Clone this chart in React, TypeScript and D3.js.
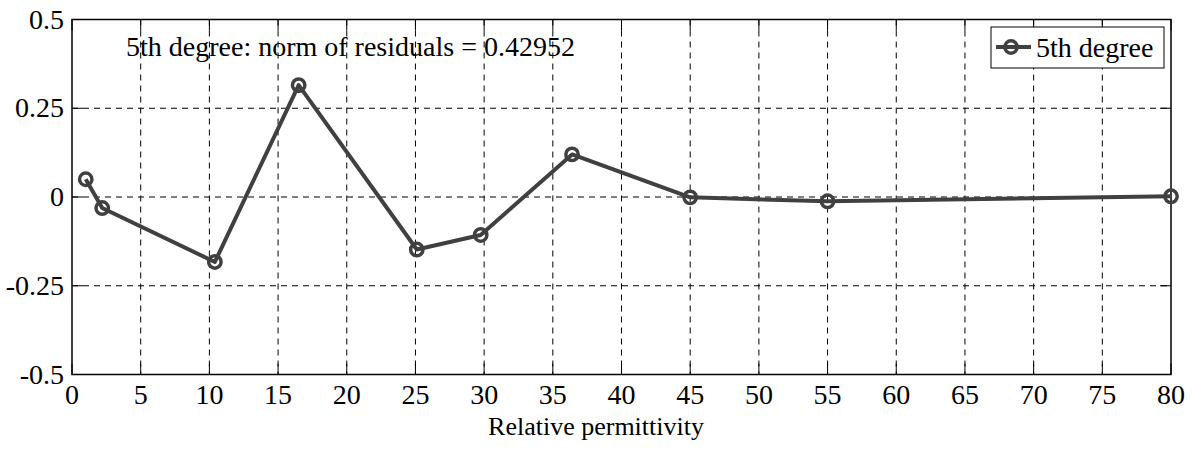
import React from "react";
import * as d3 from "d3";

const xValues = [1, 2.2, 10.4, 16.5, 25.1, 29.75, 36.4, 45, 55, 80];
const yValues = [0.05, -0.031, -0.183, 0.315, -0.148, -0.107, 0.12, -0.001, -0.012, 0.002];
const xTicks = [0, 5, 10, 15, 20, 25, 30, 35, 40, 45, 50, 55, 60, 65, 70, 75, 80];
const yTicks = [0.5, 0.25, 0, -0.25, -0.5];
const yTickLabels = ["0.5", "0.25", "0", "-0.25", "-0.5"];
const seriesName = "5th degree";
const annotation = "5th degree: norm of residuals = 0.42952";
const xLabel = "Relative permittivity";

const W = 1192;
const H = 451;
const L = 72, R = 1171, T = 19.5, B = 374.5;
const FONT = "Liberation Serif";
const FS = 28;
const LINE = "#404040";
const ts = { fontFamily: FONT, fontSize: FS };

export default function App() {
  const x = d3.scaleLinear().domain([0, 80]).range([L, R]);
  const y = d3.scaleLinear().domain([-0.5, 0.5]).range([B, T]);
  const pts = xValues.map((v, i) => [v, yValues[i]] as [number, number]);
  const line = d3.line<[number, number]>().x(d => x(d[0])).y(d => y(d[1]));
  const tickLen = 11;
  return (
    <svg width={W} height={H} style={{ position: "absolute", left: 0, top: 0 }}>
      <rect x={0} y={0} width={W} height={H} fill="#fff" />
      {xTicks.slice(1, -1).map(t => (
        <line key={"gx" + t} x1={x(t)} x2={x(t)} y1={T} y2={B} stroke="#000" strokeWidth={1} strokeDasharray="6,5" />
      ))}
      {yTicks.slice(1, -1).map(t => (
        <line key={"gy" + t} x1={L} x2={R} y1={y(t)} y2={y(t)} stroke="#000" strokeWidth={1} strokeDasharray="6,5" />
      ))}
      {xTicks.map(t => (
        <g key={"tx" + t}>
          <line x1={x(t)} x2={x(t)} y1={B} y2={B - tickLen} stroke="#000" strokeWidth={1} />
          <line x1={x(t)} x2={x(t)} y1={T} y2={T + tickLen} stroke="#000" strokeWidth={1} />
          <text x={x(t)} y={404} textAnchor="middle" style={ts} fill="#000">{t}</text>
        </g>
      ))}
      {yTicks.map((t, i) => (
        <g key={"ty" + t}>
          <line x1={L} x2={L + tickLen} y1={y(t)} y2={y(t)} stroke="#000" strokeWidth={1} />
          <line x1={R} x2={R - tickLen} y1={y(t)} y2={y(t)} stroke="#000" strokeWidth={1} />
          <text x={64} y={y(t)} dy="0.33em" textAnchor="end" style={ts} fill="#000">{yTickLabels[i]}</text>
        </g>
      ))}
      <rect x={L} y={T} width={R - L} height={B - T} fill="none" stroke="#000" strokeWidth={1.5} />
      <path d={line(pts) || ""} fill="none" stroke={LINE} strokeWidth={4} strokeLinejoin="round" />
      {pts.map((p, i) => (
        <circle key={"c" + i} cx={x(p[0])} cy={y(p[1])} r={6.2} fill="none" stroke={LINE} strokeWidth={3.5} />
      ))}
      <text x={126} y={56} style={ts} fill="#000">{annotation}</text>
      <rect x={991} y={27} width={173} height={41} fill="#fff" stroke="#000" strokeWidth={1} />
      <line x1={996} x2={1031} y1={47} y2={47} stroke={LINE} strokeWidth={4} />
      <circle cx={1011} cy={47} r={6.2} fill="none" stroke={LINE} strokeWidth={3.5} />
      <text x={1036} y={57} style={ts} fill="#000">{seriesName}</text>
      <text x={596} y={435} textAnchor="middle" style={{ fontFamily: FONT, fontSize: 26 }} fill="#000">{xLabel}</text>
    </svg>
  );
}
